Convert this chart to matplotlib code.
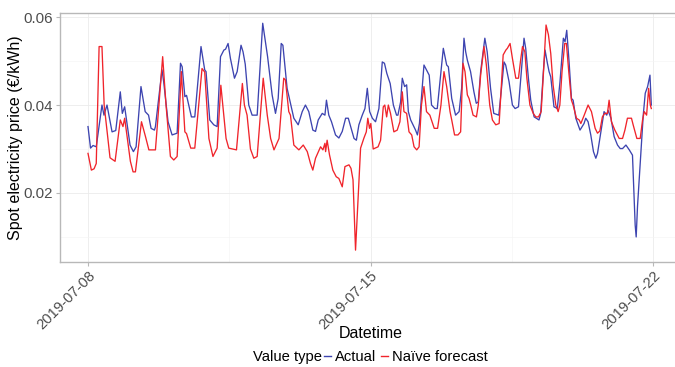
import numpy as np
import pandas as pd
import matplotlib
matplotlib.use("Agg")
import matplotlib.pyplot as plt
import matplotlib.dates as mdates
from matplotlib.lines import Line2D

plt.rcParams['font.family'] = ['Liberation Sans', 'DejaVu Sans']

start = pd.Timestamp('2019-07-08 00:00')

# hours after start / price (EUR per kWh)
actual_h = [0, 1.5, 3, 4.9, 8.3, 9.5, 11.3, 14.3, 16.5, 19.2, 20.4, 21.8, 25, 27, 28.6, 31.5, 34, 36, 37.5, 39.5,
            40.1, 44, 45, 47.6, 50, 53, 55, 56, 57.6, 58.6, 61.5, 63.5, 67.2, 69.4, 70.2, 72.4, 74.8, 76.8, 78.8, 80.8,
            81.8, 83.3, 84.7, 87.1, 88.7, 91, 92.2, 93.5, 95.6, 97.6, 100.6, 103.9, 105.1, 106.8, 109.5, 111.5, 113.1,
            114.9, 115.9, 118.4, 120, 122.4, 125, 127.4, 129.3, 131.3, 133.7, 135.3, 136.9, 139.3, 140.9, 141.8,
            143.2, 144.8, 147.2, 149.2, 151.2, 153.2, 154.8, 156.2, 158.2, 159.6, 161.1, 163.1, 164.7, 166.1, 167.5,
            169.1, 171, 173, 175, 176.3, 177.7, 179.7, 181.6, 183.5, 184.3, 185.9, 186.9, 188.3, 189.5, 190.5, 191.9,
            194.8, 195.9, 197.1, 198.5, 199.8, 201.3, 202.9, 204.3, 206.3, 207.7, 209.3, 211.3, 213.3, 214.3, 216.3,
            218.6, 220.7, 222.2, 223.6, 224.6, 225.6, 227.5, 229.5, 230.9, 232.1, 233.5, 236, 237.4, 239.4, 241.3,
            244.3, 245.9, 247.4, 248.4, 250.4, 252.4, 254, 256, 258, 259.3, 260.3, 261.9, 263.3, 265.3, 266.6, 268.2,
            269.2, 270.8, 271.8, 273.2, 274.2, 275.2, 277.1, 279.1, 280.7, 282.7, 283.7, 284.7, 286.1, 287.5, 288.5,
            290.1, 292.6, 295, 296, 297.4, 299, 300.6, 302, 303, 305, 306.9, 308.5, 309.3, 311, 312.9, 314.9, 316.5,
            317.9, 319.9, 321.9, 323.8, 325.4, 326, 326.8, 328.8, 330.2, 331.4, 332.8, 334.2, 335]
actual_v = [0.0351, 0.0302, 0.0308, 0.0305, 0.0400, 0.0377, 0.0400, 0.0339, 0.0342, 0.0430, 0.0381, 0.0396,
            0.0309, 0.0294, 0.0305, 0.0442, 0.0385, 0.0377, 0.0347, 0.0343, 0.0351, 0.0480, 0.0453, 0.0362, 0.0332,
            0.0336, 0.0495, 0.0487, 0.0419, 0.0422, 0.0373, 0.0373, 0.0533, 0.0480, 0.0476, 0.0366, 0.0355, 0.0351,
            0.0510, 0.0525, 0.0527, 0.0540, 0.0506, 0.0461, 0.0476, 0.0536, 0.0521, 0.0493, 0.0400, 0.0377, 0.0377,
            0.0586, 0.0555, 0.0510, 0.0423, 0.0381, 0.0415, 0.0540, 0.0536, 0.0438, 0.0411, 0.0370, 0.0355, 0.0385,
            0.0400, 0.0385, 0.0343, 0.0340, 0.0366, 0.0381, 0.0377, 0.0411, 0.0377, 0.0362, 0.0332, 0.0325, 0.0340,
            0.0370, 0.0370, 0.0351, 0.0324, 0.0320, 0.0355, 0.0377, 0.0392, 0.0438, 0.0385, 0.0370, 0.0362, 0.0392,
            0.0498, 0.0495, 0.0472, 0.0449, 0.0400, 0.0377, 0.0377, 0.0407, 0.0461, 0.0442, 0.0446, 0.0385, 0.0366,
            0.0343, 0.0332, 0.0358, 0.0426, 0.0491, 0.0480, 0.0468, 0.0400, 0.0392, 0.0392, 0.0453, 0.0529, 0.0491,
            0.0487, 0.0415, 0.0377, 0.0385, 0.0438, 0.0552, 0.0521, 0.0502, 0.0476, 0.0430, 0.0404, 0.0407, 0.0476,
            0.0552, 0.0521, 0.0438, 0.0381, 0.0377, 0.0438, 0.0498, 0.0491, 0.0453, 0.0400, 0.0392, 0.0396, 0.0491,
            0.0552, 0.0529, 0.0461, 0.0411, 0.0373, 0.0370, 0.0366, 0.0381, 0.0476, 0.0525, 0.0495, 0.0476, 0.0464,
            0.0396, 0.0392, 0.0453, 0.0552, 0.0544, 0.0570, 0.0498, 0.0415, 0.0411, 0.0370, 0.0343, 0.0358, 0.0370,
            0.0362, 0.0332, 0.0294, 0.0279, 0.0290, 0.0339, 0.0385, 0.0377, 0.0388, 0.0370, 0.0328, 0.0309, 0.0301,
            0.0301, 0.0309, 0.0298, 0.0286, 0.0127, 0.0100, 0.0170, 0.0294, 0.0377, 0.0427, 0.0442, 0.0468, 0.0400]

naive_h = [0, 2, 3.6, 4.9, 6.6, 8.3, 9.6, 13.1, 16.1, 19.2, 20.8, 21.8, 25.2, 26.8, 28.2, 31.8, 34.2, 36.2, 40.1,
           44.4, 46.4, 49, 51, 53, 55.5, 57.6, 58.6, 61.1, 63.5, 67.8, 69.4, 71.9, 74.3, 76.8, 79, 82.1, 83.7, 88.3,
           91.8, 93, 94.6, 96.6, 98.6, 100.6, 104.2, 106.6, 108.6, 110.6, 113.6, 116.4, 117.4, 119.4, 120.4, 122.4,
           125.4, 128, 130.4, 132.3, 133.7, 135.3, 138.3, 139.7, 140.9, 141.3, 142.2, 143.6, 145.6, 147.6, 149.2,
           151.2, 152.8, 155.2, 156.4, 157.6, 159.1, 160.5, 162.1, 164.1, 165.5, 166.4, 167.4, 168.2, 169.6, 172.5,
           174, 175.6, 176.5, 177.6, 178.6, 179.9, 181.9, 183.9, 185.5, 186.9, 187.9, 189.5, 190.9, 192.5, 193.9,
           195.5, 196.9, 198.3, 199.8, 201.3, 203.3, 205.9, 207.9, 209.9, 211.7, 213.3, 215.3, 216.3, 218, 220,
           221.6, 223, 224.2, 225.6, 226.6, 227.6, 229, 231, 232.1, 233.5, 235.5, 236.9, 238.9, 240.5, 242.5, 244.5,
           245.5, 246.9, 248.5, 249.4, 251, 252.4, 254.4, 256, 257.4, 258.4, 259.8, 261, 262.8, 264.8, 266.3, 267.9,
           269.5, 270.9, 272.4, 273.8, 275.2, 276.6, 278.2, 279.6, 280.6, 281.9, 283.5, 284.5, 285.9, 287.5, 288.5,
           290.5, 292.1, 293.1, 295.1, 297.4, 299.4, 301.6, 303, 304.4, 305.9, 307.3, 308.9, 309.9, 311.3, 313.3,
           315.9, 317.9, 319.3, 320.8, 323.2, 324.2, 326.4, 328.4, 329.8, 330.8, 332.2, 333.4, 334.4, 335]
naive_v = [0.0290, 0.0252, 0.0255, 0.0267, 0.0533, 0.0533, 0.0400, 0.0280, 0.0272, 0.0366, 0.0351, 0.0370, 0.0272,
           0.0248, 0.0248, 0.0362, 0.0328, 0.0298, 0.0298, 0.0510, 0.0400, 0.0283, 0.0275, 0.0283, 0.0476, 0.0339,
           0.0335, 0.0302, 0.0302, 0.0483, 0.0475, 0.0324, 0.0283, 0.0302, 0.0445, 0.0324, 0.0302, 0.0298, 0.0449,
           0.0400, 0.0377, 0.0300, 0.0279, 0.0283, 0.0461, 0.0377, 0.0324, 0.0298, 0.0324, 0.0461, 0.0457, 0.0385,
           0.0377, 0.0309, 0.0298, 0.0309, 0.0294, 0.0267, 0.0252, 0.0279, 0.0305, 0.0298, 0.0313, 0.0294, 0.0320,
           0.0287, 0.0252, 0.0237, 0.0233, 0.0214, 0.0260, 0.0264, 0.0256, 0.0230, 0.0070, 0.0180, 0.0302, 0.0325,
           0.0339, 0.0370, 0.0347, 0.0358, 0.0300, 0.0305, 0.0320, 0.0396, 0.0400, 0.0373, 0.0400, 0.0381, 0.0339,
           0.0343, 0.0362, 0.0430, 0.0385, 0.0381, 0.0339, 0.0332, 0.0305, 0.0298, 0.0305, 0.0400, 0.0442, 0.0385,
           0.0377, 0.0347, 0.0347, 0.0400, 0.0476, 0.0442, 0.0385, 0.0366, 0.0332, 0.0332, 0.0339, 0.0495, 0.0476,
           0.0423, 0.0415, 0.0400, 0.0377, 0.0373, 0.0400, 0.0468, 0.0533, 0.0491, 0.0400, 0.0366, 0.0355, 0.0358,
           0.0423, 0.0514, 0.0525, 0.0529, 0.0540, 0.0506, 0.0461, 0.0461, 0.0506, 0.0533, 0.0521, 0.0461, 0.0400,
           0.0381, 0.0373, 0.0373, 0.0385, 0.0476, 0.0582, 0.0560, 0.0517, 0.0445, 0.0400, 0.0385, 0.0400, 0.0476,
           0.0540, 0.0540, 0.0476, 0.0411, 0.0400, 0.0370, 0.0366, 0.0358, 0.0377, 0.0400, 0.0385, 0.0347, 0.0336,
           0.0341, 0.0373, 0.0381, 0.0381, 0.0411, 0.0362, 0.0343, 0.0324, 0.0324, 0.0343, 0.0370, 0.0370, 0.0355,
           0.0324, 0.0324, 0.0366, 0.0385, 0.0377, 0.0438, 0.0400, 0.0392]

series_names = ['Actual', 'Naïve forecast']
series_colors = ['#3d44b0', '#f0242b']
tick_dates = ['2019-07-08', '2019-07-15', '2019-07-22']

t_actual = start + pd.to_timedelta(actual_h, unit='h')
t_naive = start + pd.to_timedelta(naive_h, unit='h')

fig = plt.figure(figsize=(6.75, 3.67), dpi=100)
ax = fig.add_axes([60 / 675, 105 / 367, 621 / 675, 249.3 / 367])

ax.plot(t_actual, actual_v, color=series_colors[0], lw=0.95, zorder=3)
ax.plot(t_naive, naive_v, color=series_colors[1], lw=0.95, zorder=4)

x0 = mdates.date2num(start)
ax.set_xlim(x0 - 0.694, x0 + 14.694)
ax.set_ylim(0.0043, 0.061)

ax.set_xticks([mdates.date2num(pd.Timestamp(d)) for d in tick_dates])
ax.set_xticklabels(tick_dates, rotation=45, ha='right', rotation_mode='anchor', fontsize=10.6)
ax.set_xticks([x0 + 3.5, x0 + 10.5], minor=True)
ax.set_yticks([0.02, 0.04, 0.06])
ax.set_yticklabels(['0.02', '0.04', '0.06'], fontsize=10.8)
ax.set_yticks([0.01, 0.03, 0.05], minor=True)

ax.grid(which='major', color='#ebebeb', lw=0.6)
ax.grid(which='minor', color='#f4f4f4', lw=0.4)
ax.set_axisbelow(True)
for s in ax.spines.values():
    s.set_color('#b8b8b8')
    s.set_linewidth(1.0)

ax.tick_params(which='major', length=3, color='#b8b8b8', labelcolor='#4d4d4d', pad=2)
ax.tick_params(which='minor', length=0)

ax.set_xlabel('Datetime', fontsize=11.5, va='center')
ax.xaxis.set_label_coords(0.5, (262 - 333) / 249.3)
ax.set_ylabel('Spot electricity price (€/kWh)', fontsize=11.5, va='center')
ax.yaxis.set_label_coords((16 - 60) / 621, 0.5)

# legend row: title text, then the two keys right after it
leg_y = 1 - 357 / 367
title = fig.text(253 / 675, leg_y, 'Value type', fontsize=10.6, va='center', ha='left')
fig.canvas.draw()
bb = title.get_window_extent()
handles = [Line2D([], [], color=c, lw=1) for c in series_colors]
fig.legend(handles, series_names, loc='center left', bbox_to_anchor=((bb.x1 + 2) / 675, leg_y),
           ncol=2, frameon=False, fontsize=10.6, handlelength=0.45, handletextpad=0.3,
           columnspacing=0.35, borderpad=0, borderaxespad=0)

fig.savefig('out.png', dpi=100)
